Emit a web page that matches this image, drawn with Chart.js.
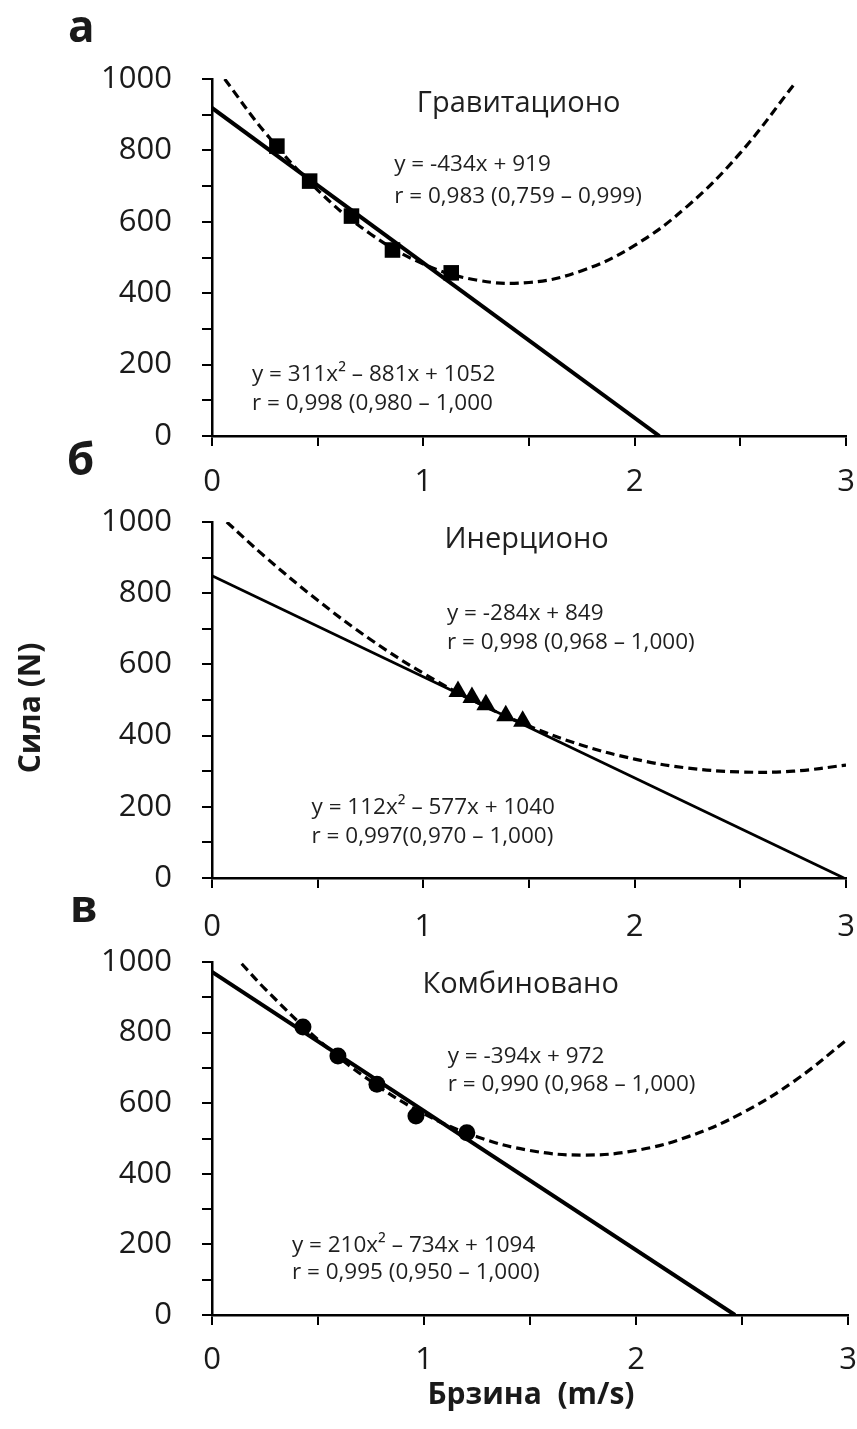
<!DOCTYPE html>
<html><head><meta charset="utf-8">
<script src="https://cdn.jsdelivr.net/npm/chart.js@4.4.0/dist/chart.umd.min.js"></script>
<style>
html,body{margin:0;padding:0;background:#fff;}
body{width:857px;height:1429px;position:relative;overflow:hidden;font-family:"Open Sans",sans-serif;color:#1a1a1a;}
canvas{position:absolute;left:0;display:block;}
.letter{position:absolute;font-weight:bold;font-size:44px;line-height:44px;}
.axt{position:absolute;font-weight:bold;font-size:30px;white-space:pre;text-align:center;}
</style></head><body>
<canvas id="cA" width="857" height="500" style="top:0px"></canvas>
<canvas id="cB" width="857" height="440" style="top:500px"></canvas>
<canvas id="cC" width="857" height="489" style="top:940px"></canvas>
<div class="letter" style="left:68px;top:3px">а</div>
<div class="letter" style="left:67px;top:436px">б</div>
<div class="letter" style="left:70px;top:883px">в</div>
<div class="axt" style="left:-71px;top:688px;width:200px;height:40px;line-height:40px;transform:rotate(-90deg);">Сила (N)</div>
<div class="axt" style="left:381px;top:1373px;width:300px;height:40px;line-height:40px;">Брзина  (m/s)</div>
<script>
// ---- data ----
const xTicks = [0, 1, 2, 3];
const yTicks = [0, 200, 400, 600, 800, 1000];

// а: Гравитационо
const gravSpeed = [0.307, 0.462, 0.660, 0.854, 1.132];
const gravForce = [812, 714, 616, 521, 457];
const gravLinX = [0, 2.117];
const gravLinY = [919, 0];
const gravQuadX = [0.06, 0.25, 0.5, 0.75, 1.0, 1.25, 1.5, 1.75, 2.0, 2.25, 2.5, 2.76];
const gravQuadY = [1000, 851, 689, 566, 482, 437, 430, 463, 534, 644, 793, 989];

// б: Инерционо
const inerSpeed = [1.164, 1.230, 1.296, 1.390, 1.470];
const inerForce = [524, 507, 487, 456, 440];
const inerLinX = [0, 2.99];
const inerLinY = [849, 0];
const inerQuadX = [0.07, 0.25, 0.5, 0.75, 1.0, 1.25, 1.5, 1.75, 2.0, 2.25, 2.5, 2.75, 3.0];
const inerQuadY = [1000, 903, 780, 670, 575, 494, 427, 373, 334, 309, 298, 300, 317];

// в: Комбиновано
const combSpeed = [0.429, 0.594, 0.778, 0.962, 1.202];
const combForce = [816, 734, 654, 564, 516];
const combLinX = [0, 2.467];
const combLinY = [972, 0];
const combQuadX = [0.14, 0.25, 0.5, 0.75, 1.0, 1.25, 1.5, 1.75, 2.0, 2.25, 2.5, 2.75, 3.0];
const combQuadY = [995, 924, 780, 662, 570, 505, 466, 453, 466, 506, 572, 664, 782];

// texts
const panelTitles = ["Гравитационо", "Инерционо", "Комбиновано"];
const linEq = ["y = -434x + 919", "y = -284x + 849", "y = -394x + 972"];
const linR = ["r = 0,983 (0,759 – 0,999)", "r = 0,998 (0,968 – 1,000)", "r = 0,990 (0,968 – 1,000)"];
const quadEq = ["y = 311x² – 881x + 1052", "y = 112x² – 577x + 1040", "y = 210x² – 734x + 1094"];
const quadR = ["r = 0,998 (0,980 – 1,000", "r = 0,997(0,970 – 1,000)", "r = 0,995 (0,950 – 1,000)"];

// ---- rendering ----
Chart.defaults.font.family = "'Open Sans', sans-serif";
Chart.defaults.color = '#1a1a1a';

const zip = (xs, ys) => xs.map((v, i) => ({x: v, y: ys[i]}));

const annPlugin = {
  id: 'ann',
  afterDatasetsDraw(chart, args, opts) {
    const {ctx} = chart;
    const xs = chart.scales.x, ys = chart.scales.y;
    ctx.save();
    ctx.fillStyle = '#1f1f1f';
    ctx.textBaseline = 'middle';
    for (const t of opts.items) {
      ctx.font = t.size + "px 'Open Sans', sans-serif";
      ctx.textAlign = t.align;
      ctx.fillText(t.text, xs.getPixelForValue(t.x), ys.getPixelForValue(t.y));
    }
    ctx.restore();
  }
};

function makeChart(id, cfg) {
  const datasets = [
    {data: zip(cfg.px, cfg.py), showLine: false, pointStyle: cfg.marker, pointRadius: cfg.markerR,
     backgroundColor: '#000', borderColor: '#000', borderWidth: 0},
    {data: zip(cfg.lx, cfg.ly), showLine: true, pointRadius: 0, borderColor: '#000', borderWidth: cfg.linW},
    {data: zip(cfg.qx, cfg.qy), showLine: true, pointRadius: 0, borderColor: '#000', borderWidth: 3.2,
     borderDash: [9, 5], tension: 0.4}
  ];
  return new Chart(document.getElementById(id), {
    type: 'scatter',
    data: {datasets},
    plugins: [annPlugin],
    options: {
      responsive: false, animation: false,
      layout: {padding: {top: cfg.padTop, right: 9, bottom: 0, left: 0}},
      plugins: {legend: {display: false}, tooltip: {enabled: false}, ann: {items: cfg.items}},
      scales: {
        x: {
          type: 'linear', min: 0, max: 3,
          afterFit: s => { s.height = cfg.xH; s.paddingLeft = 0; s.paddingRight = 0; },
          afterBuildTicks: s => { s.ticks = [0,0.5,1,1.5,2,2.5,3].map(v => ({value: v})); },
          ticks: {font: {size: 31}, padding: cfg.xPad, color: '#1a1a1a', maxRotation: 0, autoSkip: false,
                  callback: v => xTicks.includes(v) ? String(v) : ''},
          grid: {drawOnChartArea: false, drawTicks: true, tickLength: 10, color: '#000', lineWidth: 2},
          border: {display: true, color: '#000', width: 2.5}
        },
        y: {
          type: 'linear', min: 0, max: 1000,
          afterFit: s => { s.width = 212; s.paddingTop = 0; s.paddingBottom = 0; },
          afterBuildTicks: s => { const a = []; for (let v = 0; v <= 1000; v += 100) a.push({value: v}); s.ticks = a; },
          ticks: {font: {size: 31}, padding: 30, color: '#1a1a1a', autoSkip: false,
                  callback: v => yTicks.includes(v) ? String(v) : ''},
          grid: {drawOnChartArea: false, drawTicks: true, tickLength: 10, color: '#000', lineWidth: 2},
          border: {display: true, color: '#000', width: 2.5}
        }
      }
    }
  });
}

makeChart('cA', {
  px: gravSpeed, py: gravForce, marker: 'rect', markerR: 11,
  lx: gravLinX, ly: gravLinY, linW: 4, qx: gravQuadX, qy: gravQuadY,
  padTop: 79, xH: 64, xPad: 18,
  items: [
    {text: panelTitles[0], x: 1.451, y: 930, size: 29, align: 'center'},
    {text: linEq[0], x: 0.862, y: 759, size: 22.5, align: 'left'},
    {text: linR[0], x: 0.862, y: 672, size: 22.5, align: 'left'},
    {text: quadEq[0], x: 0.189, y: 171, size: 22.5, align: 'left'},
    {text: quadR[0], x: 0.189, y: 92, size: 22.5, align: 'left'}
  ]
});

makeChart('cB', {
  px: inerSpeed, py: inerForce, marker: 'triangle', markerR: 11,
  lx: inerLinX, ly: inerLinY, linW: 2.8, qx: inerQuadX, qy: inerQuadY,
  padTop: 22, xH: 62, xPad: 21,
  items: [
    {text: panelTitles[1], x: 1.489, y: 949, size: 29, align: 'center'},
    {text: linEq[1], x: 1.112, y: 744, size: 22.5, align: 'left'},
    {text: linR[1], x: 1.112, y: 660, size: 22.5, align: 'left'},
    {text: quadEq[1], x: 0.471, y: 197, size: 22.5, align: 'left'},
    {text: quadR[1], x: 0.471, y: 115, size: 22.5, align: 'left'}
  ]
});

makeChart('cC', {
  px: combSpeed, py: combForce, marker: 'circle', markerR: 8.5,
  lx: combLinX, ly: combLinY, linW: 4, qx: combQuadX, qy: combQuadY,
  padTop: 22, xH: 114, xPad: 17,
  items: [
    {text: panelTitles[2], x: 1.456, y: 935, size: 29, align: 'center'},
    {text: linEq[2], x: 1.112, y: 731, size: 22.5, align: 'left'},
    {text: linR[2], x: 1.112, y: 652, size: 22.5, align: 'left'},
    {text: quadEq[2], x: 0.377, y: 198, size: 22.5, align: 'left'},
    {text: quadR[2], x: 0.377, y: 119, size: 22.5, align: 'left'}
  ]
});
</script>
</body></html>
